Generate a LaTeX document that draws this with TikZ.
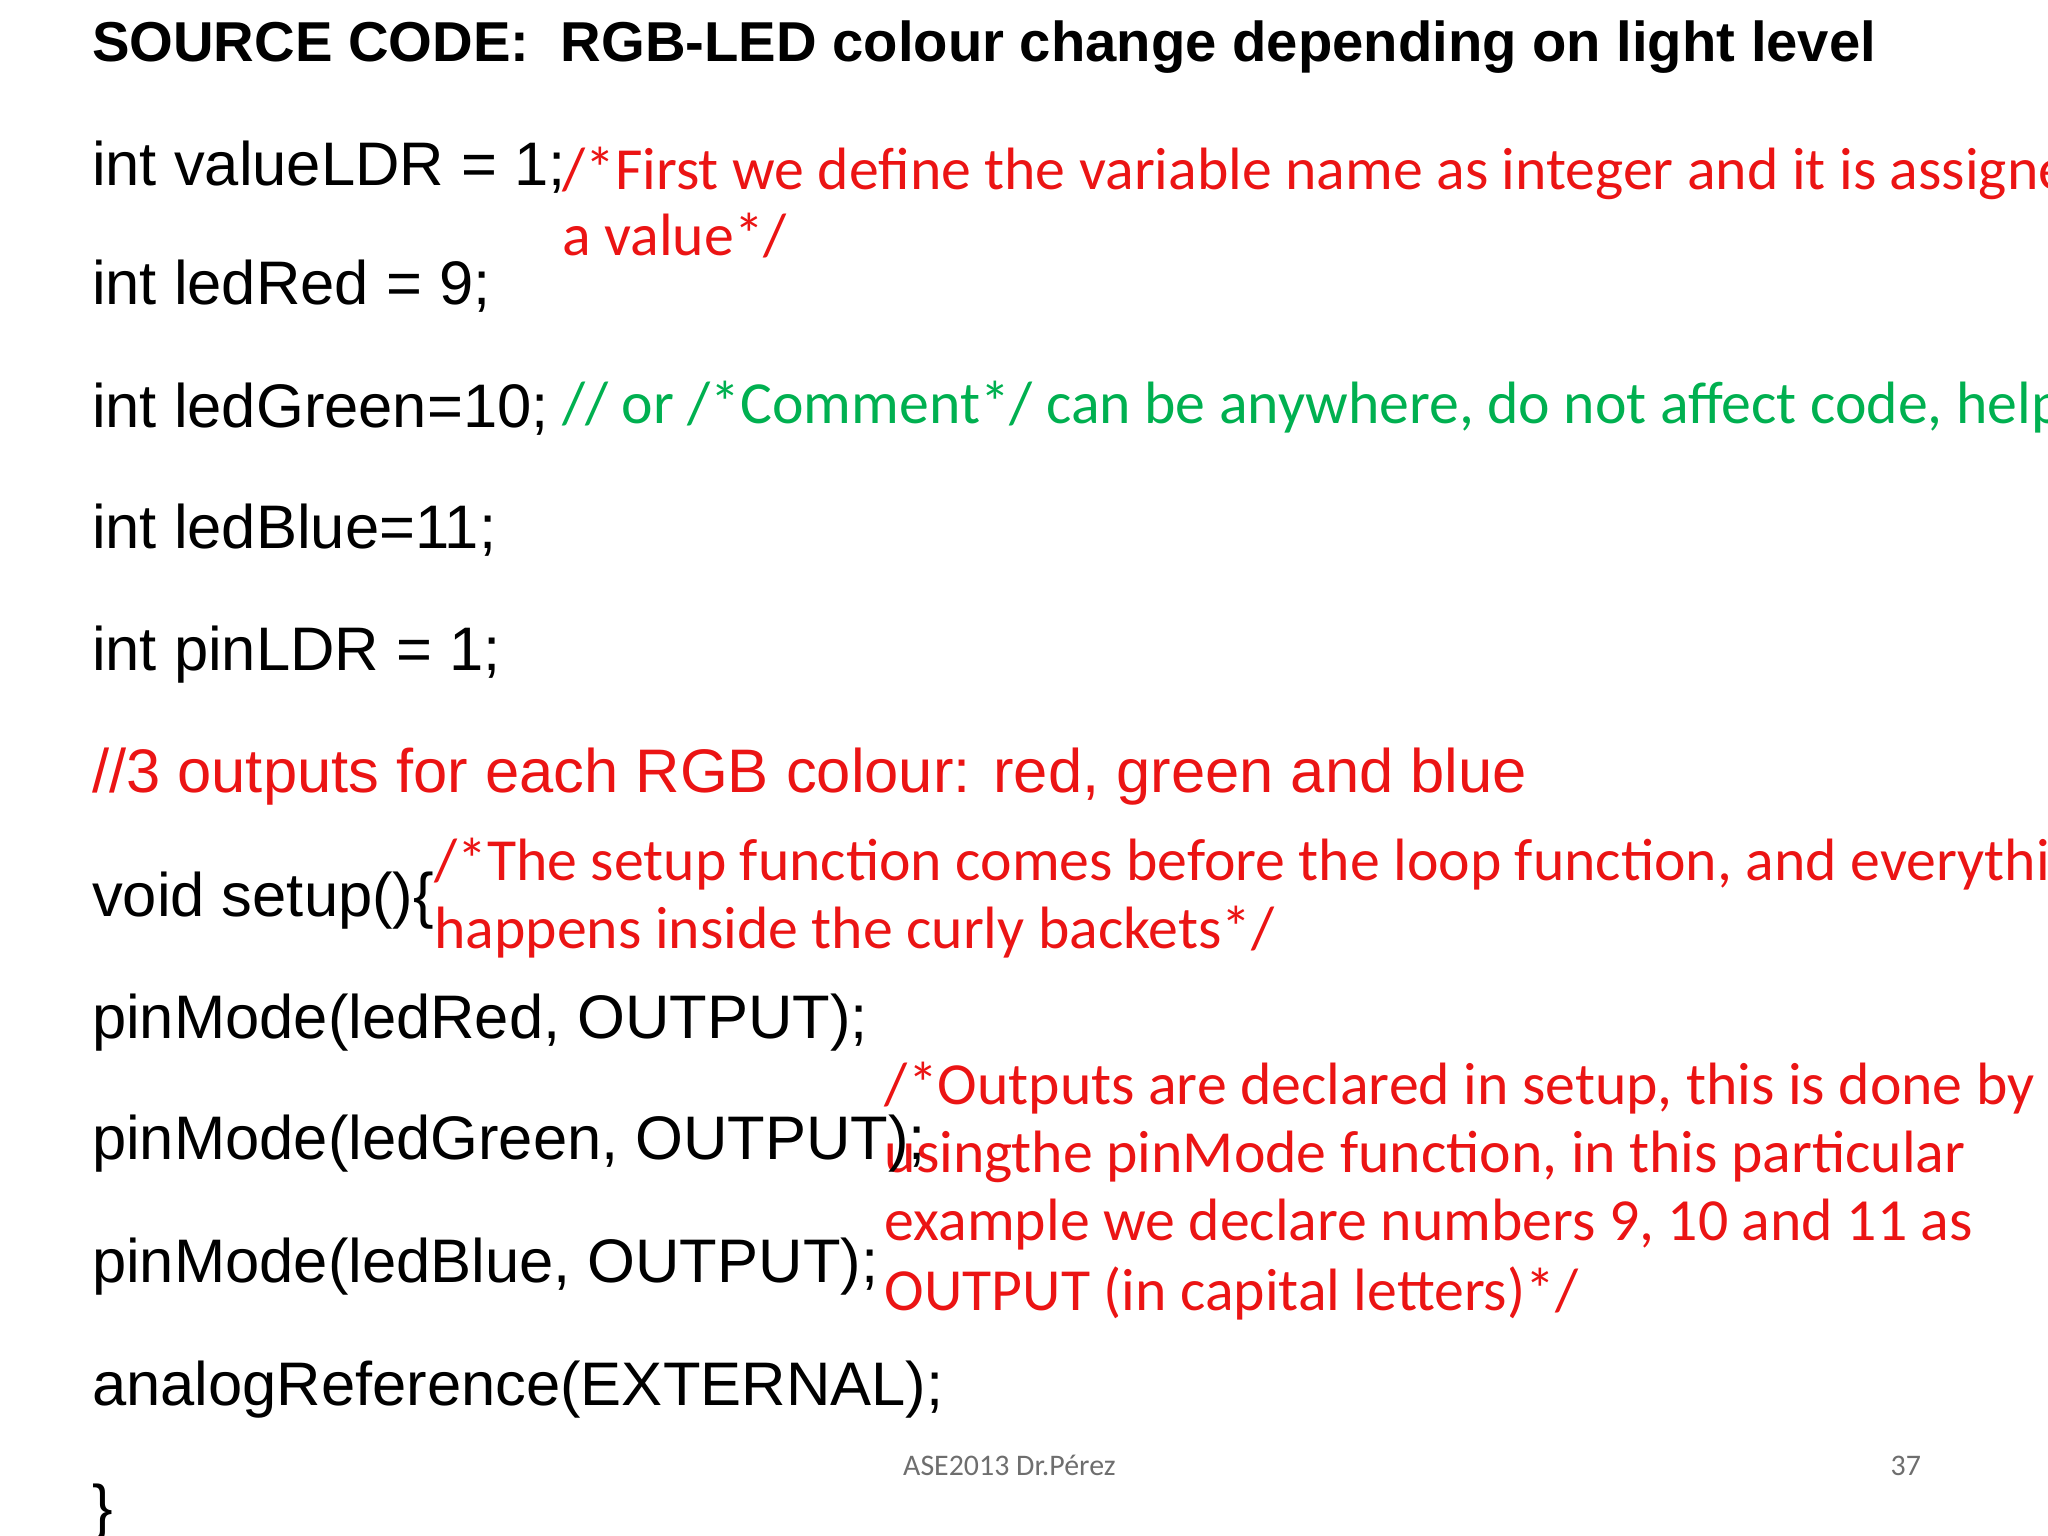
\documentclass[tikz,border=0pt]{standalone}
\usepackage{fontspec}
\setmainfont{Liberation Sans}
\newfontfamily\calfont{Carlito}
\definecolor{cred}{RGB}{235,20,20}
\definecolor{cgreen}{RGB}{0,176,80}
\definecolor{cgrey}{RGB}{110,110,110}
\begin{document}
\begin{tikzpicture}[x=0.013061cm,y=-0.013061cm,
 code/.style={anchor=base west,inner sep=0pt,font=\fontsize{17.5pt}{21pt}\selectfont},
 cmt/.style={anchor=base west,inner sep=0pt,font=\calfont\fontsize{17pt}{20pt}\selectfont,text=cred},
 ttl/.style={anchor=base west,inner sep=0pt,font=\bfseries\fontsize{16pt}{19pt}\selectfont}]
\useasboundingbox (0,0) rectangle (1568,1176);
\node[ttl] (t) at (70,47) {SOURCE CODE:\ \ RGB-LED colour change depending on light level};
\node[code] (a1) at (70,142) {int valueLDR = 1;};
\node[cmt] (c1) at (430,145) {/*First we define the variable name as integer and it is assigned};
\node[cmt] (c2) at (430,196) {a value*/};
\node[code] (a2) at (70,233) {int ledRed = 9;};
\node[code] (a3) at (70,327) {int ledGreen=10;};
\node[cmt,text=cgreen] (c3) at (430,324) {// or /*Comment*/ can be anywhere, do not affect code, help others};
\node[code] (a4) at (70,420) {int ledBlue=11;};
\node[code] (a5) at (70,513) {int pinLDR = 1;};
\node[code,text=cred] (a6) at (70,607) {//3 outputs for each RGB colour: red, green and blue};
\node[code] (a7) at (70,702) {void setup()\{};
\node[cmt] (c4) at (332,674) {/*The setup function comes before the loop function, and everything};
\node[cmt] (c5) at (332,726) {happens inside the curly backets*/};
\node[code] (a8) at (70,795) {pinMode(ledRed, OUTPUT);};
\node[cmt] (c6) at (677,846) {/*Outputs are declared in setup, this is done by};
\node[cmt] (c7) at (677,898) {usingthe pinMode function, in this particular};
\node[cmt] (c8) at (677,950) {example we declare numbers 9, 10 and 11 as};
\node[cmt] (c9) at (677,1003) {OUTPUT (in capital letters)*/};
\node[code] (a9) at (70,888) {pinMode(ledGreen, OUTPUT);};
\node[code] (a10) at (70,982) {pinMode(ledBlue, OUTPUT);};
\node[code] (a11) at (70,1076) {analogReference(EXTERNAL);};
\node[anchor=base west,inner sep=0pt,font=\calfont\fontsize{8.5pt}{10pt}\selectfont,text=cgrey] (f1) at (691,1130) {ASE2013 Dr.Pérez};
\node[anchor=base west,inner sep=0pt,font=\calfont\fontsize{8.5pt}{10pt}\selectfont,text=cgrey] (f2) at (1447,1130) {37};
\node[code] (a12) at (70,1170) {\}};
\end{tikzpicture}
\end{document}
